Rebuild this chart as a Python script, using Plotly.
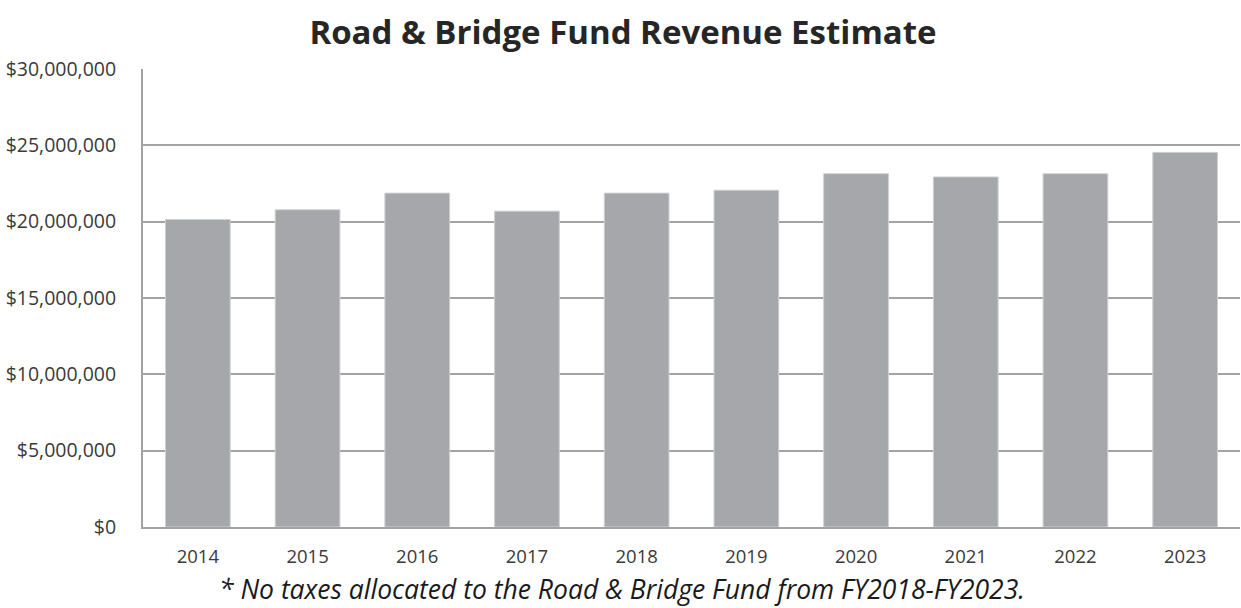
import plotly.graph_objects as go

years = ["2014", "2015", "2016", "2017", "2018", "2019", "2020", "2021", "2022", "2023"]
revenue = [20140000, 20780000, 21870000, 20690000, 21870000,
           22060000, 23140000, 22930000, 23140000, 24540000]
y_ticks = [0, 5000000, 10000000, 15000000, 20000000, 25000000, 30000000]
y_labels = ["$0", "$5,000,000", "$10,000,000", "$15,000,000",
            "$20,000,000", "$25,000,000", "$30,000,000"]

fig = go.Figure(go.Bar(x=years, y=revenue, marker_color="#a6a7aa",
                       marker_line=dict(color="#d0d0d2", width=1)))

fig.update_layout(
    width=1241, height=608,
    margin=dict(l=143, r=1, t=69, b=81),
    plot_bgcolor="white", paper_bgcolor="white",
    bargap=0.41,
    showlegend=False,
    font=dict(family="Open Sans", color="#3a3a3a", size=18.5),
    title=dict(text="<b>Road & Bridge Fund Revenue Estimate</b>",
               x=0.502, xanchor="center", y=0.946, yanchor="middle",
               font=dict(family="Open Sans", size=33, color="#262626")),
)
fig.update_yaxes(range=[0, 30000000], tickvals=y_ticks, ticktext=y_labels,
                 tickfont=dict(size=19.5), automargin=False,
                 showgrid=True, gridcolor="#a3a3a3", gridwidth=2,
                 showline=True, linecolor="#a3a3a3", linewidth=2,
                 ticks="", ticklabelstandoff=21, zeroline=False)
fig.update_xaxes(showline=True, linecolor="#a3a3a3", linewidth=2,
                 ticks="", ticklabelstandoff=12, automargin=False)

fig.add_annotation(text="<i>* No taxes allocated to the Road & Bridge Fund from FY2018-FY2023.</i>",
                   xref="paper", yref="paper", x=0.4366, y=-0.136,
                   xanchor="center", yanchor="middle", showarrow=False,
                   font=dict(family="Open Sans", size=26.5, color="#1a1a1a"))

# drop the page's default body margin so the figure fills the window
fig.write_html("out.html", config={"displayModeBar": False},
               post_script="document.body.style.margin='0';")
